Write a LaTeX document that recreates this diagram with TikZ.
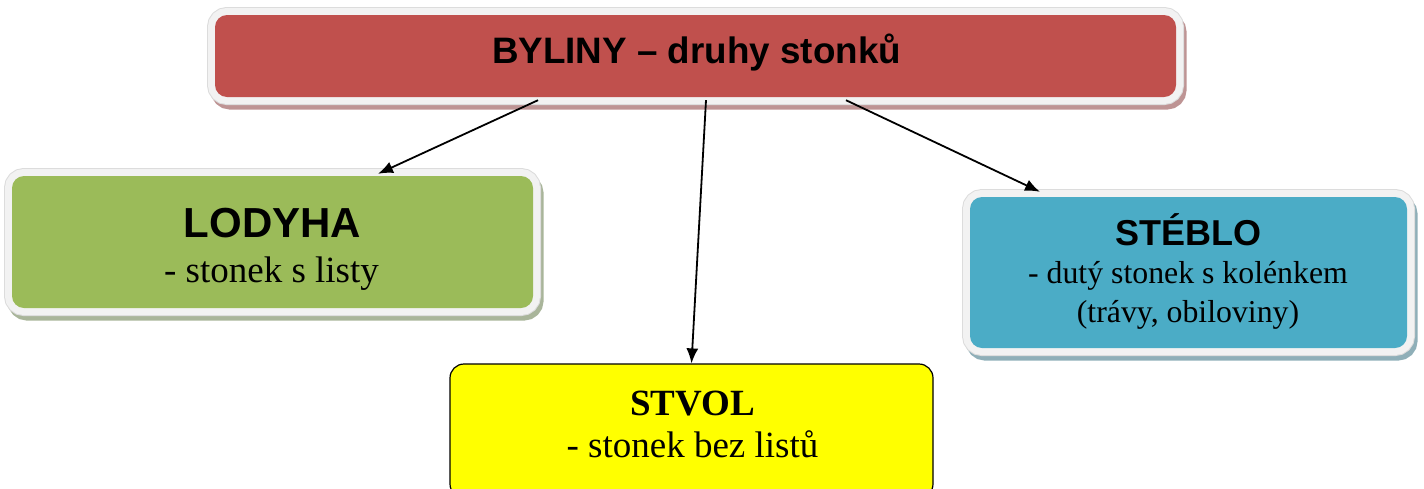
\documentclass[tikz,border=0pt]{standalone}
\usepackage{fontspec}
\setmainfont{Liberation Serif}
\newfontfamily\arialf{Liberation Sans}
\usetikzlibrary{arrows.meta}
\definecolor{cred}{HTML}{C0504D}
\definecolor{cgreen}{HTML}{9BBB59}
\definecolor{cblue}{HTML}{4BACC6}
\definecolor{cyellow}{HTML}{FFFF00}
\definecolor{framefill}{HTML}{F2F2F2}
\definecolor{frameline}{HTML}{DCDCDC}
\definecolor{shred}{HTML}{BE9494}
\definecolor{shgreen}{HTML}{A9B59A}
\definecolor{shblue}{HTML}{8FAFB8}
\tikzset{
  fancybox/.style 2 args={rectangle, inner sep=0pt, rounded corners=12pt, fill=#1,
    preaction={fill=#2, draw=#2, line width=15pt, transform canvas={shift={(3pt,-5pt)}}},
    preaction={draw=frameline, line width=16pt},
    preaction={draw=framefill, line width=14pt}},
  plainbox/.style={rectangle, inner sep=0pt, rounded corners=14pt, fill=cyellow, draw=black, line width=1.2pt},
  conn/.style={line width=1.8pt, -{Latex[length=15pt,width=12pt]}},
  sansbig/.style={anchor=base, font=\arialf\bfseries\fontsize{#1}{#1}\selectfont},
  serifbig/.style={anchor=base, font=\fontsize{#1}{#1}\selectfont},
  serifbold/.style={anchor=base, font=\bfseries\fontsize{#1}{#1}\selectfont},
}
\begin{document}
\begin{tikzpicture}[x=1pt,y=-1pt]
\useasboundingbox (0,0) rectangle (1424,488);
% boxes
\node[fancybox={cred}{shred}, minimum width=961pt, minimum height=82pt] (title) at (695.5,56) {};
\node[fancybox={cgreen}{shgreen}, minimum width=521pt, minimum height=132pt] (lodyha) at (272.5,242) {};
\node[fancybox={cblue}{shblue}, minimum width=437pt, minimum height=151pt] (steblo) at (1188.5,272.5) {};
\node[plainbox, minimum width=483pt, minimum height=134pt] (stvol) at (691.5,431) {};
% texts
\node[sansbig=36.8pt] (titleT) at (696.5,63) {BYLINY – druhy stonků};
\node[sansbig=42pt] (lodyhaT) at (272.5,237) {LODYHA};
\node[serifbig=37pt] (lodyhaS) at (271.5,282) {- stonek s listy};
\node[serifbold=37pt] (stvolT) at (692.5,415) {STVOL};
\node[serifbig=37pt] (stvolS) at (692.5,457) {- stonek bez listů};
\node[sansbig=36pt] (stebloT) at (1188,245) {STÉBLO};
\node[serifbig=31.8pt] (stebloS1) at (1188,283) {- dutý stonek s kolénkem};
\node[serifbig=31.8pt] (stebloS2) at (1188,322) {(trávy, obiloviny)};
% connectors
\draw[conn] ([xshift=-157.5pt,yshift=-3pt]title.south) -- ([xshift=105.5pt,yshift=2pt]lodyha.north);
\draw[conn] ([xshift=10.5pt,yshift=-3pt]title.south) -- (stvol.north);
\draw[conn] ([xshift=150.5pt,yshift=-3pt]title.south) -- ([xshift=-148.5pt,yshift=5pt]steblo.north);
\end{tikzpicture}
\end{document}
